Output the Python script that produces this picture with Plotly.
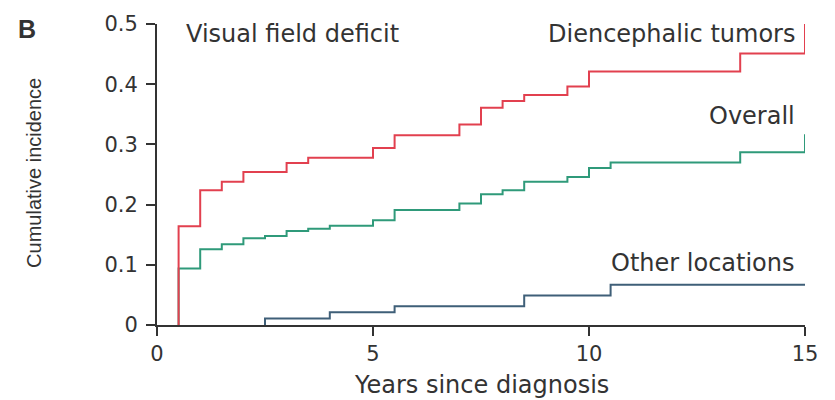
import plotly.graph_objects as go

# Cumulative incidence of visual field deficit by tumour location.
# Each list holds the event times (years) and the incidence reached at that time.
years_dien = [0.5, 1.0, 1.5, 2.0, 3.0, 3.5, 5.0, 5.5, 7.0, 7.5, 8.0, 8.5, 9.5, 10.0, 13.5, 15.0]
inc_dien = [0.164, 0.224, 0.238, 0.254, 0.269, 0.278, 0.294, 0.315, 0.333, 0.361, 0.372,
            0.382, 0.396, 0.421, 0.451, 0.500]

years_overall = [0.5, 1.0, 1.5, 2.0, 2.5, 3.0, 3.5, 4.0, 5.0, 5.5, 7.0, 7.5, 8.0, 8.5,
                 9.5, 10.0, 10.5, 13.5, 15.0]
inc_overall = [0.094, 0.126, 0.134, 0.144, 0.148, 0.156, 0.160, 0.165, 0.174, 0.191, 0.202,
               0.217, 0.224, 0.238, 0.246, 0.261, 0.270, 0.287, 0.317]

years_other = [2.5, 4.0, 5.5, 8.5, 10.5, 15.0]
inc_other = [0.011, 0.021, 0.031, 0.049, 0.067, 0.067]

x_ticks = [0, 5, 10, 15]
y_ticks = [0, 0.1, 0.2, 0.3, 0.4, 0.5]

RED = "#e2404f"
GREEN = "#2f9a7a"
BLUE = "#3f5f78"
INK = "#333333"
FONT = "DejaVu Sans"

fig = go.Figure()
for xs, ys, col in [(years_other, inc_other, BLUE),
                    (years_overall, inc_overall, GREEN),
                    (years_dien, inc_dien, RED)]:
    # the curve rises from zero at its first event
    fig.add_trace(go.Scatter(x=[xs[0]] + xs, y=[0] + ys, mode="lines",
                             line=dict(shape="hv", color=col, width=2),
                             showlegend=False, hoverinfo="skip"))

annotations = [
    dict(text="Diencephalic tumors", x=14.82, y=0.484, xanchor="right", yanchor="middle"),
    dict(text="Overall", x=14.82, y=0.348, xanchor="right", yanchor="middle"),
    dict(text="Other locations", x=14.82, y=0.103, xanchor="right", yanchor="middle"),
    dict(text="Visual field deficit", x=0.63, y=0.484, xanchor="left", yanchor="middle"),
]
for a in annotations:
    fig.add_annotation(xref="x", yref="y", showarrow=False,
                       font=dict(family=FONT, size=24, color=INK), **a)

fig.add_annotation(text="<b>B</b>", xref="paper", yref="paper", x=-0.218, y=0.985,
                   xanchor="left", yanchor="middle", showarrow=False,
                   font=dict(family="Liberation Sans", size=25, color=INK))
fig.add_annotation(text="Cumulative incidence", xref="paper", yref="paper", x=-0.19, y=0.505,
                   textangle=-90, xanchor="center", yanchor="middle", showarrow=False,
                   font=dict(family="Liberation Sans", size=20, color=INK))
fig.add_annotation(text="Years since diagnosis", xref="paper", yref="paper", x=0.5, y=-0.2,
                   xanchor="center", yanchor="middle", showarrow=False,
                   font=dict(family=FONT, size=24, color=INK))

axis_common = dict(showgrid=False, zeroline=False, showline=True, linecolor=INK, linewidth=2,
                   ticks="outside", ticklen=9, tickwidth=2, tickcolor=INK, layer="above traces",
                   tickfont=dict(family=FONT, size=21, color=INK))

fig.update_xaxes(range=[0, 15], tickvals=x_ticks, ticktext=[str(v) for v in x_ticks], **axis_common)
fig.update_yaxes(range=[0, 0.5], tickvals=y_ticks, ticktext=["0", "0.1", "0.2", "0.3", "0.4", "0.5"],
                 ticklabelstandoff=4, **axis_common)

fig.update_layout(width=835, height=400, margin=dict(l=157, r=30, t=20, b=75),
                  paper_bgcolor="white", plot_bgcolor="white")

fig.write_html("out.html")
